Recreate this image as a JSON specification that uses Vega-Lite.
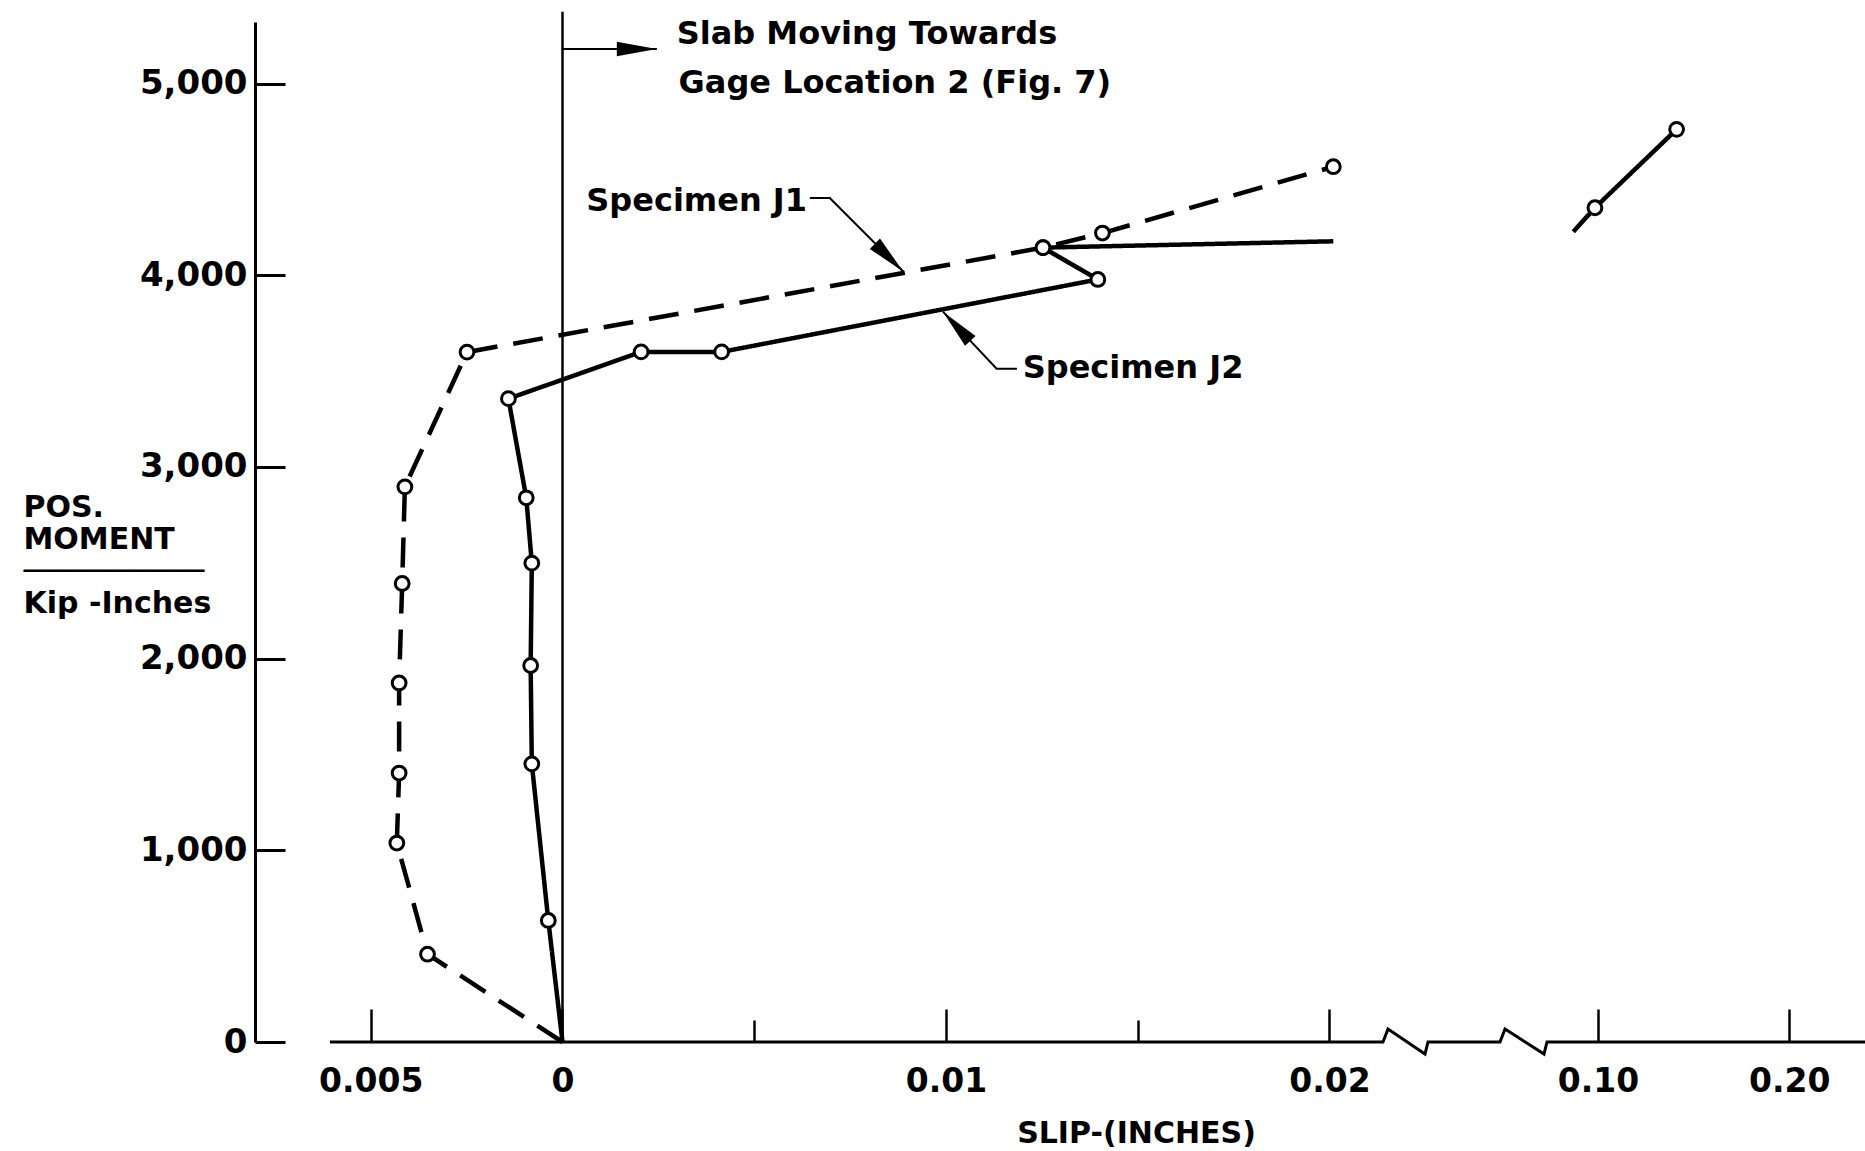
{
  "$schema": "https://vega.github.io/schema/vega-lite/v6.json",
  "width": 1610,
  "height": 1020,
  "autosize": {"type": "none"},
  "padding": {"left": 255, "top": 22, "right": 0, "bottom": 109},
  "background": "white",
  "config": {"view": {"stroke": null}, "font": "DejaVu Sans"},
  "datasets": {
    "curves": [
      {"series": "J1", "segment": "J1", "seq": 1, "slip": 0, "moment": 0, "reading": false},
      {"series": "J1", "segment": "J1", "seq": 2, "slip": -0.00352, "moment": 458, "reading": true},
      {"series": "J1", "segment": "J1", "seq": 3, "slip": -0.00432, "moment": 1038, "reading": true},
      {"series": "J1", "segment": "J1", "seq": 4, "slip": -0.00426, "moment": 1403, "reading": true},
      {"series": "J1", "segment": "J1", "seq": 5, "slip": -0.00426, "moment": 1873, "reading": true},
      {"series": "J1", "segment": "J1", "seq": 6, "slip": -0.00418, "moment": 2392, "reading": true},
      {"series": "J1", "segment": "J1", "seq": 7, "slip": -0.00411, "moment": 2896, "reading": true},
      {"series": "J1", "segment": "J1", "seq": 8, "slip": -0.00249, "moment": 3599, "reading": true},
      {"series": "J1", "segment": "J1", "seq": 9, "slip": 0.01253, "moment": 4144, "reading": true},
      {"series": "J1", "segment": "J1", "seq": 10, "slip": 0.01408, "moment": 4220, "reading": true},
      {"series": "J1", "segment": "J1", "seq": 11, "slip": 0.0201, "moment": 4566, "reading": true},
      {"series": "J2", "segment": "J2a", "seq": 1, "slip": 0, "moment": 0, "reading": false},
      {"series": "J2", "segment": "J2a", "seq": 2, "slip": -0.00037, "moment": 634, "reading": true},
      {"series": "J2", "segment": "J2a", "seq": 3, "slip": -0.0008, "moment": 1451, "reading": true},
      {"series": "J2", "segment": "J2a", "seq": 4, "slip": -0.00083, "moment": 1964, "reading": true},
      {"series": "J2", "segment": "J2a", "seq": 5, "slip": -0.0008, "moment": 2498, "reading": true},
      {"series": "J2", "segment": "J2a", "seq": 6, "slip": -0.000945, "moment": 2839, "reading": true},
      {"series": "J2", "segment": "J2a", "seq": 7, "slip": -0.00141, "moment": 3356, "reading": true},
      {"series": "J2", "segment": "J2a", "seq": 8, "slip": 0.00205, "moment": 3600, "reading": true},
      {"series": "J2", "segment": "J2a", "seq": 9, "slip": 0.00415, "moment": 3600, "reading": true},
      {"series": "J2", "segment": "J2a", "seq": 10, "slip": 0.01396, "moment": 3978, "reading": true},
      {"series": "J2", "segment": "J2a", "seq": 11, "slip": 0.01253, "moment": 4144, "reading": true},
      {"series": "J2", "segment": "J2a", "seq": 12, "slip": 0.0201, "moment": 4177, "reading": false},
      {"series": "J2", "segment": "J2b", "seq": 13, "slip": 0.0871, "moment": 4227, "reading": false},
      {"series": "J2", "segment": "J2b", "seq": 14, "slip": 0.0984, "moment": 4352, "reading": true},
      {"series": "J2", "segment": "J2b", "seq": 15, "slip": 0.1411, "moment": 4761, "reading": true}
    ],
    "axisline": [
      {"seq": 1, "slip": -0.006063, "moment": 0},
      {"seq": 2, "slip": 0.021395, "moment": 0},
      {"seq": 3, "slip": 0.02182, "moment": 68},
      {"seq": 4, "slip": 0.03372, "moment": -63},
      {"seq": 5, "slip": 0.03468, "moment": 0},
      {"seq": 6, "slip": 0.05783, "moment": 0},
      {"seq": 7, "slip": 0.05944, "moment": 68},
      {"seq": 8, "slip": 0.07198, "moment": -63},
      {"seq": 9, "slip": 0.07334, "moment": 0},
      {"seq": 10, "slip": 0.2396, "moment": 0}
    ],
    "zero": [{"slip": 0, "moment": 0, "top": 5375}],
    "guides": [
      {"guide": "slab", "seq": 1, "slip": 0, "moment": 5180},
      {"guide": "slab", "seq": 2, "slip": 0.00246, "moment": 5180},
      {"guide": "J1", "seq": 1, "slip": 0.00645, "moment": 4403},
      {"guide": "J1", "seq": 2, "slip": 0.00697, "moment": 4403},
      {"guide": "J1", "seq": 3, "slip": 0.00889, "moment": 4018},
      {"guide": "J2", "seq": 1, "slip": 0.01185, "moment": 3512},
      {"guide": "J2", "seq": 2, "slip": 0.01132, "moment": 3512},
      {"guide": "J2", "seq": 3, "slip": 0.00992, "moment": 3810}
    ],
    "arrowheads": [
      {"guide": "slab", "slip": 0.00246, "moment": 5180},
      {"guide": "J1", "slip": 0.00889, "moment": 4018},
      {"guide": "J2", "slip": 0.00992, "moment": 3810}
    ],
    "notes": [
      {"note": "Slab Moving Towards", "slip": 0.002978, "moment": 5206},
      {"note": "Gage Location 2 (Fig. 7)", "slip": 0.003027, "moment": 4950},
      {"note": "Specimen J1", "slip": 0.00062, "moment": 4337},
      {"note": "Specimen J2", "slip": 0.012, "moment": 3462}
    ]
  },
  "encoding": {
    "x": {
      "field": "slip",
      "type": "quantitative",
      "scale": {"domain": [-0.0080183, 0.0215, 0.0723, 0.239571], "range": [0, 1132, 1290, 1610], "nice": false, "zero": false},
      "axis": {
        "values": [-0.005, 0, 0.005, 0.01, 0.015, 0.02, 0.1, 0.2],
        "domain": false,
        "grid": false,
        "ticks": true,
        "tickSize": {"condition": {"test": "datum.value == 0.005 || datum.value == 0.015", "value": -22}, "value": -33},
        "tickWidth": 2.5,
        "tickColor": "black",
        "labelExpr": "datum.value >= 0.05 ? format(datum.value, '.2f') : ((datum.value == 0.005 || datum.value == 0.015) ? '' : format(abs(datum.value), ''))",
        "labelFont": "DejaVu Sans",
        "labelFontSize": 33,
        "labelFontWeight": "bold",
        "labelColor": "black",
        "labelPadding": 56,
        "labelBaseline": "top",
        "labelAlign": "center",
        "labelFlush": false,
        "labelOverlap": false,
        "title": "SLIP-(INCHES)",
        "titleFont": "DejaVu Sans",
        "titleFontSize": 30,
        "titleFontWeight": "bold",
        "titleColor": "black",
        "titleX": 881,
        "titleY": 100,
        "titleAlign": "center",
        "titleBaseline": "alphabetic"
      }
    },
    "y": {
      "field": "moment",
      "type": "quantitative",
      "scale": {"domain": [0, 5321], "nice": false, "zero": false},
      "axis": {
        "values": [0, 1000, 2000, 3000, 4000, 5000],
        "format": ",.0f",
        "grid": false,
        "domain": true,
        "domainColor": "black",
        "domainWidth": 3,
        "tickSize": -30,
        "tickWidth": 3,
        "tickColor": "black",
        "labelPadding": 38,
        "labelFont": "DejaVu Sans",
        "labelFontSize": 34,
        "labelFontWeight": "bold",
        "labelColor": "black",
        "labelBaseline": "middle",
        "labelFlush": false,
        "labelOverlap": false,
        "title": ["POS.", "MOMENT", "──────────", "Kip -Inches"],
        "titleAngle": 0,
        "titleAlign": "left",
        "titleBaseline": "alphabetic",
        "titleX": -232,
        "titleY": 494,
        "titleFont": "DejaVu Sans",
        "titleFontSize": 30,
        "titleFontWeight": "bold",
        "titleLineHeight": 32,
        "titleColor": "black"
      }
    }
  },
  "layer": [
    {
      "data": {"name": "zero"},
      "mark": {"type": "rule", "strokeWidth": 2.5, "color": "black"},
      "encoding": {"y2": {"field": "top"}}
    },
    {
      "data": {"name": "axisline"},
      "mark": {"type": "line", "strokeWidth": 3, "color": "black", "strokeJoin": "miter"},
      "encoding": {"order": {"field": "seq", "type": "quantitative"}}
    },
    {
      "data": {"name": "curves"},
      "mark": {"type": "line", "strokeWidth": 4.5, "color": "black"},
      "encoding": {
        "detail": {"field": "segment", "type": "nominal"},
        "order": {"field": "seq", "type": "quantitative"},
        "strokeDash": {"field": "series", "type": "nominal", "scale": {"domain": ["J1", "J2"], "range": [[30, 16], [1, 0]]}, "legend": null}
      }
    },
    {
      "data": {"name": "curves"},
      "transform": [{"filter": "datum.reading"}],
      "mark": {"type": "point", "shape": "circle", "filled": true, "fill": "white", "stroke": "black", "strokeWidth": 3, "size": 190, "opacity": 1}
    },
    {
      "data": {"name": "guides"},
      "mark": {"type": "line", "strokeWidth": 2, "color": "black"},
      "encoding": {
        "detail": {"field": "guide", "type": "nominal"},
        "order": {"field": "seq", "type": "quantitative"}
      }
    },
    {
      "data": {"name": "arrowheads"},
      "transform": [{"filter": "datum.guide == 'slab'"}],
      "mark": {"type": "point", "shape": "M0,0L-2,-0.36L-2,0.36Z", "filled": true, "color": "black", "size": 1600, "angle": 0, "opacity": 1, "strokeWidth": 0}
    },
    {
      "data": {"name": "arrowheads"},
      "transform": [{"filter": "datum.guide == 'J1'"}],
      "mark": {"type": "point", "shape": "M0,0L-2,-0.36L-2,0.36Z", "filled": true, "color": "black", "size": 1600, "angle": 44.5, "opacity": 1, "strokeWidth": 0}
    },
    {
      "data": {"name": "arrowheads"},
      "transform": [{"filter": "datum.guide == 'J2'"}],
      "mark": {"type": "point", "shape": "M0,0L-2,-0.36L-2,0.36Z", "filled": true, "color": "black", "size": 1600, "angle": 226.8, "opacity": 1, "strokeWidth": 0}
    },
    {
      "data": {"name": "notes"},
      "mark": {"type": "text", "align": "left", "baseline": "alphabetic", "fontSize": 32, "fontWeight": "bold", "font": "DejaVu Sans", "color": "black"},
      "encoding": {"text": {"field": "note", "type": "nominal"}}
    }
  ]
}
